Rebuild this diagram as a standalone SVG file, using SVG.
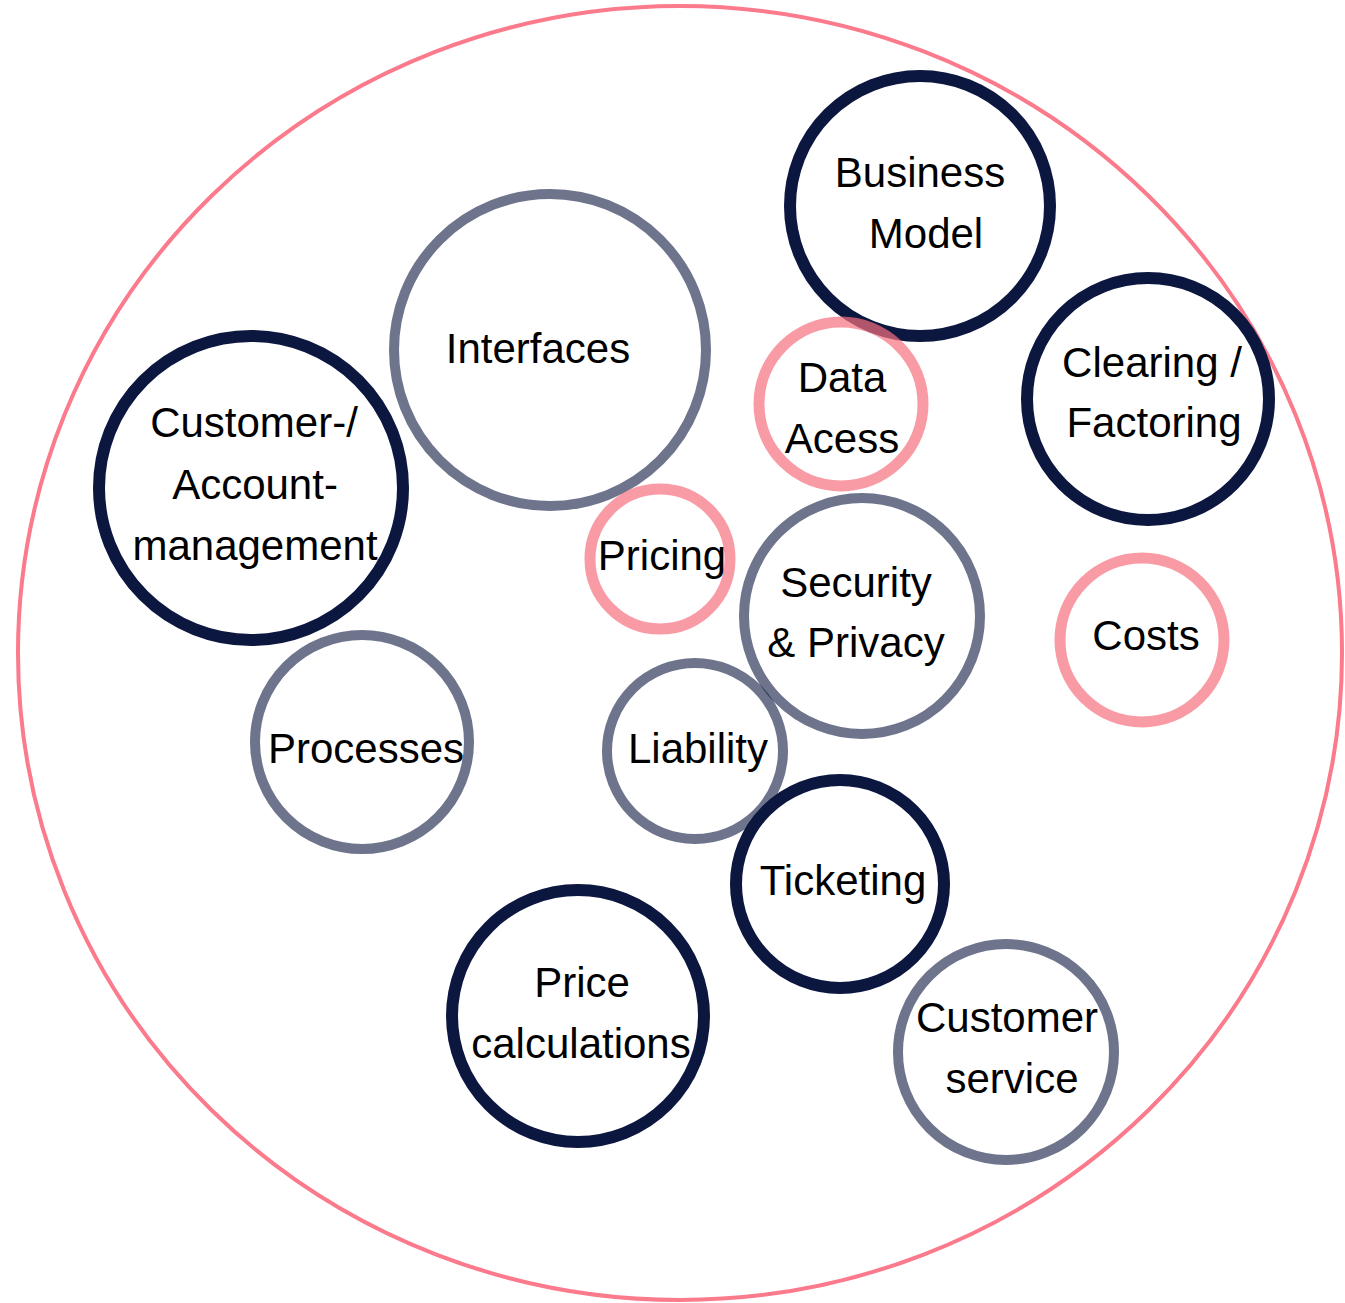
<svg xmlns="http://www.w3.org/2000/svg" width="1345" height="1303" viewBox="0 0 1345 1303">
<style>
.n{fill:none;stroke:#0C1740;stroke-width:12}
.g{fill:none;stroke:#0C1740;stroke-opacity:0.6;stroke-width:10}
.p{fill:none;stroke:#F6717F;stroke-opacity:0.7;stroke-width:11}
text{font-family:"Liberation Sans",Arial,sans-serif;font-size:42px;fill:#000;text-anchor:middle}
</style>
<rect width="1345" height="1303" fill="#fff"/>
<g id="outer"><ellipse cx="680" cy="653" rx="662" ry="647" fill="none" stroke="#FB7A8B" stroke-width="4"/></g>
<g id="connectors"></g>
<g id="business-model"><circle class="n" cx="920" cy="206" r="130"/><text x="920" y="187">Business</text><text x="926" y="248">Model</text></g>
<g id="interfaces"><circle class="g" cx="550" cy="350" r="156"/><text x="538" y="363">Interfaces</text></g>
<g id="customer-account"><circle class="n" cx="251" cy="488" r="152"/><text x="254" y="437">Customer-/</text><text x="255" y="499">Account-</text><text x="255" y="560">management</text></g>
<g id="data-access"><circle class="p" cx="841" cy="404" r="82"/><text x="842" y="392">Data</text><text x="842" y="453">Acess</text></g>
<g id="clearing"><circle class="n" cx="1148" cy="399" r="121"/><text x="1152" y="377">Clearing /</text><text x="1154" y="437">Factoring</text></g>
<g id="pricing"><circle class="p" cx="660" cy="559" r="70"/><text x="662" y="570">Pricing</text></g>
<g id="security"><circle class="g" cx="862" cy="616" r="118"/><text x="856" y="597">Security</text><text x="856" y="657">&amp; Privacy</text></g>
<g id="costs"><circle class="p" cx="1142" cy="640" r="82"/><text x="1146" y="650">Costs</text></g>
<g id="processes"><circle class="g" cx="362" cy="742" r="107"/><text x="366" y="763">Processes</text></g>
<g id="liability"><circle class="g" cx="695" cy="751" r="88"/><text x="698" y="763">Liability</text></g>
<g id="ticketing"><circle class="n" cx="840" cy="884" r="104"/><text x="843" y="895">Ticketing</text></g>
<g id="price-calculations"><circle class="n" cx="578" cy="1016" r="126"/><text x="582" y="997">Price</text><text x="581" y="1058">calculations</text></g>
<g id="customer-service"><circle class="g" cx="1006" cy="1052" r="108"/><text x="1007" y="1032">Customer</text><text x="1012" y="1093">service</text></g>
</svg>
